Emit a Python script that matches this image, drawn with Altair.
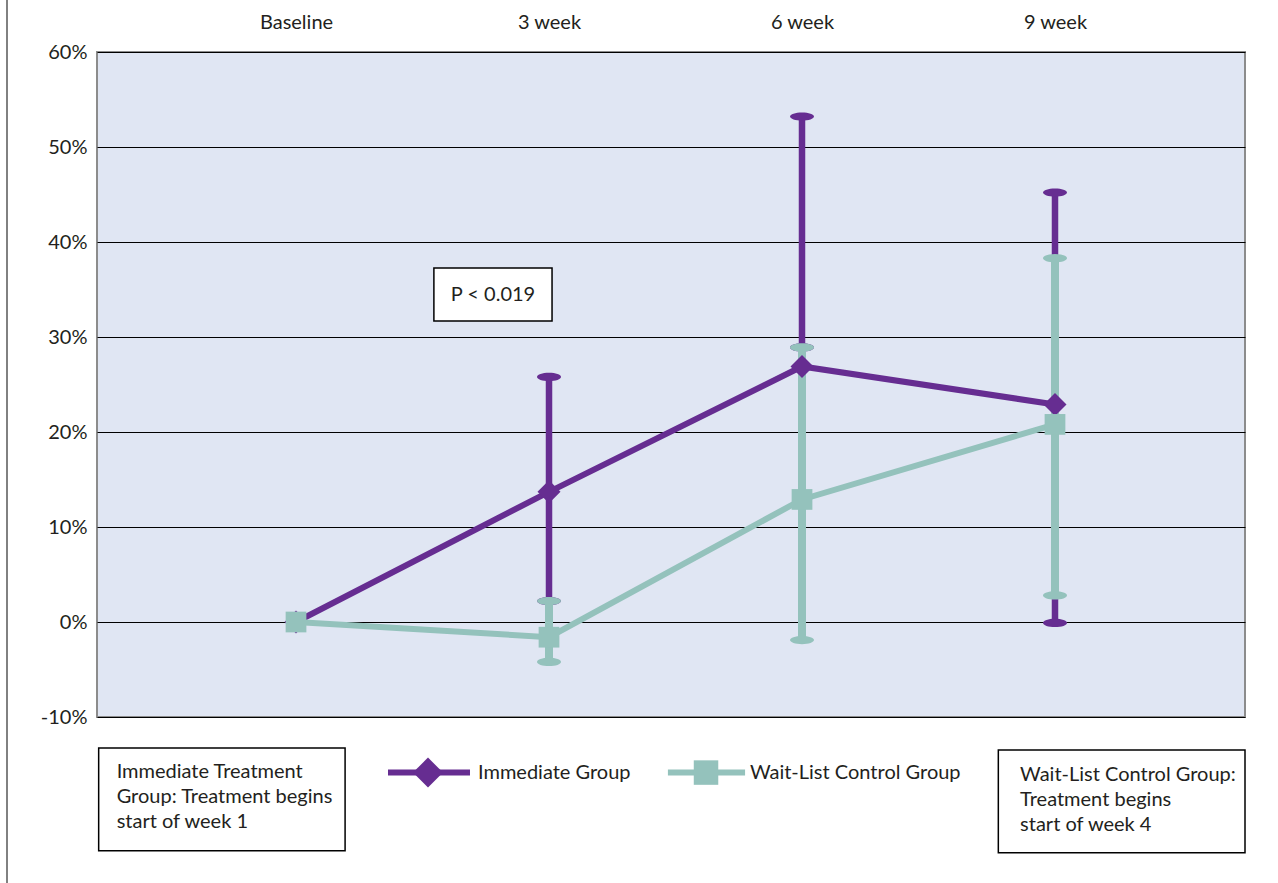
import altair as alt
import pandas as pd

# ---------------- data ----------------
TIMEPOINTS = ["Baseline", "3 week", "6 week", "9 week"]
GROUPS = ["Immediate Group", "Wait-List Control Group"]

IMMEDIATE_MEAN = [0.0, 13.7, 26.9, 22.9]
IMMEDIATE_LOW = [None, 2.2, 28.9, -0.1]
IMMEDIATE_HIGH = [None, 25.8, 53.2, 45.2]

WAITLIST_MEAN = [0.0, -1.6, 12.9, 20.8]
WAITLIST_LOW = [None, -4.2, -1.9, 2.8]
WAITLIST_HIGH = [None, 2.2, 28.9, 38.3]

Y_TICKS = [-10, 0, 10, 20, 30, 40, 50, 60]

P_LABEL = "P < 0.019"
NOTE_LEFT = ["Immediate Treatment", "Group: Treatment begins", "start of week 1"]
NOTE_RIGHT = ["Wait-List Control Group:", "Treatment begins", "start of week 4"]

# ---------------- styling / layout ----------------
PURPLE = "#662D91"
TEAL = "#94C2BC"
BG = "#E0E6F3"
INK = "#231F20"
FONT = "Lato"
FS = 20

W, H = 1148, 665
X_DOMAIN = [-0.7866, 3.751]
Y_DOMAIN = [-10, 60]

ELLIPSE = "M -1 0 A 1 0.34 0 1 1 1 0 A 1 0.34 0 1 1 -1 0 Z"

# placement of annotations (in data units)
P_BOX = dict(x=0.545, x2=1.012, y=37.26, y2=31.68)
LEFT_BOX = dict(x=-0.780, x2=0.194, y=-13.26, y2=-24.07, tx=-0.709, ty=-14.75)
RIGHT_BOX = dict(x=2.776, x2=3.751, y=-13.47, y2=-24.28, tx=2.862, ty=-15.05)
LEGEND_Y = -15.85
LEGEND_ITEMS = {
    "Immediate Group": dict(x0=0.3636, x1=0.6877, xm=0.5217, xt=0.7194),
    "Wait-List Control Group": dict(x0=1.470, x1=1.775, xm=1.6206, xt=1.794),
}


def frame(mean, low, high):
    return pd.DataFrame({
        "t": list(range(len(TIMEPOINTS))),
        "label": TIMEPOINTS,
        "mean": mean,
        "lo": low,
        "hi": high,
    })


imm = frame(IMMEDIATE_MEAN, IMMEDIATE_LOW, IMMEDIATE_HIGH)
wl = frame(WAITLIST_MEAN, WAITLIST_LOW, WAITLIST_HIGH)

xs = alt.Scale(domain=X_DOMAIN, nice=False, zero=False)
ys = alt.Scale(domain=Y_DOMAIN, nice=False, zero=False)

label_expr = "[" + ",".join("'" + t + "'" for t in TIMEPOINTS) + "][datum.value]"

X_AXIS = alt.Axis(orient="top", values=list(range(len(TIMEPOINTS))), labelExpr=label_expr,
                  ticks=False, domain=False, grid=False, title=None,
                  labelFontSize=FS, labelColor=INK, labelFont=FONT, labelPadding=20)
Y_AXIS = alt.Axis(values=Y_TICKS, labelExpr="datum.value + '%'", grid=True,
                  gridColor="black", gridWidth=1, ticks=False, domain=False, title=None,
                  labelFontSize=FS, labelColor=INK, labelFont=FONT, labelPadding=10)


def xq(field="t"):
    return alt.X(f"{field}:Q", scale=xs, axis=X_AXIS)


def yq(field):
    return alt.Y(f"{field}:Q", scale=ys, axis=Y_AXIS)


def errbars(df, color, width):
    base = alt.Chart(df).transform_filter("isValid(datum.lo)")
    rule = base.mark_rule(strokeWidth=width, color=color).encode(
        x=xq(), y=yq("lo"), y2=alt.Y2("hi:Q"))
    caps = base.transform_fold(["lo", "hi"], as_=["k", "v"]).mark_point(
        shape=ELLIPSE, size=576, filled=True, opacity=1, color=color, strokeWidth=0
    ).encode(x=xq(), y=yq("v"))
    return rule + caps


def series(df, color, shape, size):
    base = alt.Chart(df)
    line = base.mark_line(strokeWidth=6, color=color).encode(x=xq(), y=yq("mean"))
    pts = base.mark_point(shape=shape, size=size, filled=True, opacity=1, color=color,
                          strokeWidth=0).encode(x=xq(), y=yq("mean"))
    return line + pts


# P box
pdf = pd.DataFrame([{**P_BOX, "text": P_LABEL}])
p_rect = alt.Chart(pdf).mark_rect(fill="white", stroke="black", strokeWidth=1.5).encode(
    x=xq("x"), x2="x2:Q", y=yq("y"), y2="y2:Q")
p_text = alt.Chart(pdf).transform_calculate(
    cx="(datum.x + datum.x2) / 2", cy="(datum.y + datum.y2) / 2"
).mark_text(fontSize=FS, font=FONT, color=INK, align="center", baseline="middle").encode(
    x=xq("cx"), y=yq("cy"), text="text:N")

# note boxes
notes = pd.DataFrame([
    {**LEFT_BOX, "text": "\n".join(NOTE_LEFT)},
    {**RIGHT_BOX, "text": "\n".join(NOTE_RIGHT)},
])
n_rect = alt.Chart(notes).mark_rect(fill="white", stroke="black", strokeWidth=1.5).encode(
    x=xq("x"), x2="x2:Q", y=yq("y"), y2="y2:Q")
n_text = alt.Chart(notes).mark_text(
    fontSize=FS, font=FONT, color=INK, align="left", baseline="top", lineBreak="\n", lineHeight=25
).encode(x=xq("tx"), y=yq("ty"), text="text:N")

# legend (manual, built from group names)
leg = pd.DataFrame([
    {"group": g, "y": LEGEND_Y, **LEGEND_ITEMS[g]} for g in GROUPS
])
cscale = alt.Scale(domain=GROUPS, range=[PURPLE, TEAL])
leg_line = alt.Chart(leg).mark_rule(strokeWidth=6).encode(
    x=xq("x0"), x2="x1:Q", y=yq("y"),
    color=alt.Color("group:N", scale=cscale, legend=None))
leg_imm = alt.Chart(leg).transform_filter(f"datum.group == '{GROUPS[0]}'").mark_point(
    shape="diamond", size=900, filled=True, opacity=1, color=PURPLE, strokeWidth=0
).encode(x=xq("xm"), y=yq("y"))
leg_wl = alt.Chart(leg).transform_filter(f"datum.group == '{GROUPS[1]}'").mark_point(
    shape="square", size=600, filled=True, opacity=1, color=TEAL, strokeWidth=0
).encode(x=xq("xm"), y=yq("y"))
leg_text = alt.Chart(leg).mark_text(
    fontSize=FS, font=FONT, color=INK, align="left", baseline="middle"
).encode(x=xq("xt"), y=yq("y"), text="group:N")

# decorative left page border
border = alt.Chart(imm).mark_rule(color="#808080", strokeWidth=1.5).encode(
    x=alt.value(-90), y=alt.value(-52), y2=alt.value(831))

chart = alt.layer(
    errbars(imm, PURPLE, 6.5),
    errbars(wl, TEAL, 8),
    series(imm, PURPLE, "diamond", 530),
    series(wl, TEAL, "square", 430),
    p_rect, p_text,
    n_rect, n_text,
    leg_line, leg_imm, leg_wl, leg_text,
    border,
).properties(
    width=W, height=H,
    autosize=alt.AutoSizeParams(type="none"),
    padding={"left": 97, "top": 52, "right": 33, "bottom": 166},
    background="white",
).configure(
    font=FONT
).configure_view(
    fill=BG, stroke="#8C8C8C", strokeWidth=2
)

chart.save("out.html", embed_options={"renderer": "svg", "actions": False})
